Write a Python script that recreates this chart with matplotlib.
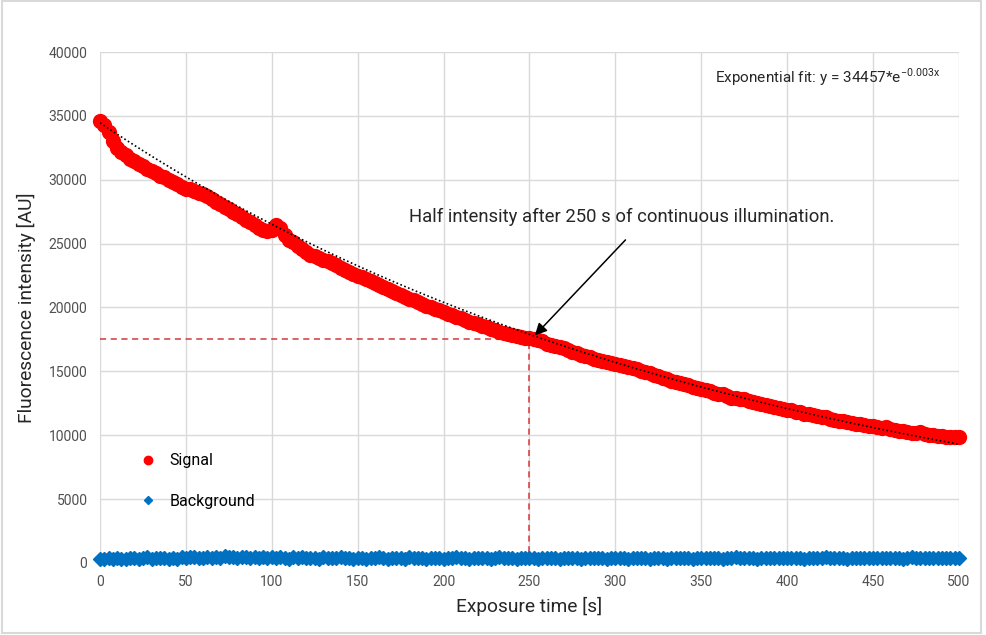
import matplotlib.pyplot as plt
import numpy as np
from matplotlib.patches import Rectangle

plt.rcParams['font.family'] = ['Roboto', 'DejaVu Sans']

# signal read every 2.5 s
sig_time = np.arange(0, 500.1, 2.5)
signal = [34600, 34300, 33700, 33000, 32500, 32150, 31900, 31650, 31500, 31250, 31100, 30850, 30700, 30500, 30300, 30200, 30000, 29800, 29700, 29450,
          29300, 29250, 29100, 28950, 28850, 28700, 28500, 28250, 28100, 27850, 27700, 27450, 27300, 27100, 26850, 26700, 26450, 26250, 26100, 26000,
          26100, 26450, 26200, 25700, 25300, 25100, 24850, 24550, 24350, 24100, 24000, 23850, 23750, 23650, 23500, 23300, 23100, 22950, 22800, 22650,
          22500, 22350, 22250, 22050, 21900, 21750, 21600, 21450, 21300, 21150, 21000, 20850, 20700, 20600, 20450, 20300, 20150, 20000, 19900, 19800,
          19650, 19500, 19400, 19250, 19150, 19000, 18900, 18800, 18700, 18550, 18450, 18350, 18250, 18100, 18000, 17950, 17850, 17750, 17700, 17650,
          17600, 17550, 17450, 17350, 17150, 17050, 16950, 16900, 16800, 16650, 16550, 16400, 16300, 16200, 16100, 16000, 15900, 15800, 15700, 15650,
          15600, 15500, 15450, 15350, 15250, 15150, 15050, 14950, 14850, 14700, 14600, 14500, 14400, 14250, 14150, 14100, 14000, 13900, 13800, 13700,
          13650, 13550, 13450, 13300, 13250, 13200, 13100, 12950, 12950, 12850, 12800, 12700, 12600, 12550, 12450, 12400, 12300, 12200, 12150, 12050,
          12000, 11950, 11850, 11800, 11700, 11650, 11600, 11500, 11450, 11400, 11300, 11200, 11150, 11100, 11000, 10950, 10900, 10850, 10800, 10750,
          10700, 10650, 10550, 10650, 10500, 10400, 10350, 10300, 10250, 10200, 10150, 10250, 10100, 10000, 10000, 9950, 9950, 9900, 9900, 9850,
          9850]

# background read every 2.5 s
bg_time = np.arange(0, 500.1, 2.5)
background = [330, 280, 360, 300, 410, 350, 290, 380, 420, 330, 370, 440, 310, 390, 360, 420, 350, 400, 330, 450,
              380, 430, 470, 360, 410, 490, 400, 450, 380, 520, 430, 470, 410, 500, 440, 390, 480, 420, 460, 400,
              440, 380, 460, 410, 350, 430, 390, 470, 360, 420, 400, 340, 450, 380, 410, 370, 430, 360, 400, 350,
              420, 380, 340, 410, 360, 440, 390, 330, 420, 370, 400, 350, 430, 380, 360, 410, 340, 390, 420, 370,
              350, 400, 380, 430, 360, 410, 340, 390, 420, 370, 400, 350, 380, 430, 360, 390, 410, 340, 380, 400,
              370, 420, 350, 390, 410, 360, 400, 340, 380, 420, 370, 390, 350, 410, 380, 360, 400, 420, 350, 390,
              410, 370, 390, 350, 420, 380, 360, 400, 340, 390, 410, 370, 350, 400, 380, 420, 360, 390, 340, 400,
              380, 410, 360, 390, 420, 350, 400, 370, 430, 380, 360, 410, 390, 350, 400, 380, 420, 370, 390, 410,
              360, 400, 380, 420, 350, 390, 410, 370, 400, 430, 380, 360, 410, 390, 350, 400, 420, 380, 370, 410,
              390, 360, 410, 380, 420, 370, 400, 350, 390, 430, 380, 410, 360, 400, 420, 380, 390, 410, 370, 400,
              420]

half_time = 250
half_value = 17550

fit_amp = 34457
fit_rate = 0.00262

x_ticks = np.arange(0, 501, 50)
y_ticks = np.arange(0, 40001, 5000)

fit_x = np.linspace(0, 500, 200)
fit_y = fit_amp * np.exp(-fit_rate * fit_x)

fig = plt.figure(figsize=(9.86, 6.35), dpi=100)
fig.patches.append(Rectangle((0.002, 0.003), 0.993, 0.995, transform=fig.transFigure,
                             fill=False, edgecolor='#d9d9d9', linewidth=1.5))
ax = fig.add_axes([0.1014, 0.1134, 0.8712, 0.8047])

ax.plot(sig_time, signal, 'o', color='#ff0000', markersize=10, label='Signal',
        clip_on=False, zorder=3)
ax.plot(bg_time, background, 'D', color='#0070c0', markersize=7.5, label='Background',
        clip_on=False, zorder=3)
ax.plot(fit_x, fit_y, color='black', linestyle=(0, (1, 1.5)), linewidth=1.2, zorder=4)

# half-intensity guides
ax.plot([0, half_time], [half_value, half_value], color='#d03a3a', linestyle=(0, (4, 3)),
        linewidth=1.1, zorder=2)
ax.plot([half_time, half_time], [0, half_value], color='#d03a3a', linestyle=(0, (4, 3)),
        linewidth=1.1, zorder=2)

ax.annotate('', xy=(252, 17650), xytext=(307, 25450),
            arrowprops=dict(arrowstyle='-|>', color='black', lw=1.1, mutation_scale=18),
            zorder=5)
ax.text(180, 27050, 'Half intensity after 250 s of continuous illumination.',
        fontsize=13.3, color='#262626', ha='left', va='center')
ax.text(489, 38000, r'Exponential fit: y = 34457*e$^{\mathregular{-0.003x}}$',
        fontsize=11, color='#262626', ha='right', va='center')

ax.set_xlim(0, 500)
ax.set_ylim(0, 40000)
ax.set_xticks(x_ticks)
ax.set_yticks(y_ticks)
ax.grid(True, color='#d9d9d9', linewidth=1)
ax.set_axisbelow(True)
for s in ax.spines.values():
    s.set_visible(False)
ax.tick_params(length=0, labelsize=10, colors='#505050', pad=9)

ax.set_xlabel('Exposure time [s]', fontsize=13.8, color='#262626', labelpad=5)
ax.set_ylabel('Fluorescence intensity [AU]', fontsize=13.8, color='#262626', labelpad=9)

ax.legend(loc='center left', bbox_to_anchor=(0.021, 0.16), frameon=False, fontsize=11.5,
          labelspacing=1.6, handletextpad=0.3, handlelength=2.0, markerscale=0.6)

fig.savefig('out.png', dpi=100)
